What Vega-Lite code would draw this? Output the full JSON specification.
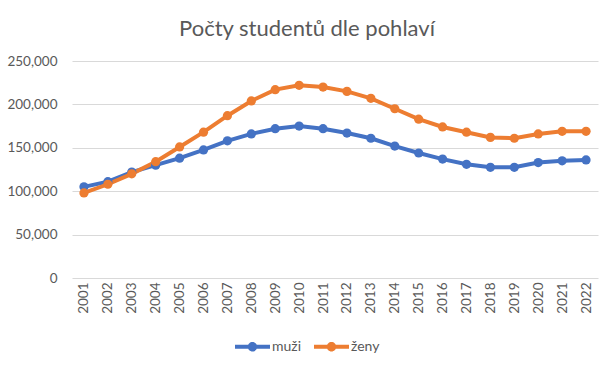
{
  "$schema": "https://vega.github.io/schema/vega-lite/v6.json",
  "width": 526,
  "height": 217,
  "autosize": {"type": "none"},
  "padding": {"left": 72, "top": 61, "right": 14, "bottom": 88},
  "background": "white",
  "title": {
    "text": "Počty studentů dle pohlaví",
    "font": "Lato",
    "fontSize": 22,
    "fontWeight": "normal",
    "color": "#595959",
    "anchor": "middle",
    "dx": -28,
    "offset": 13
  },
  "data": {
    "values": [
      {"rok": "2001", "pohlavi": "muži", "pocet": 105000},
      {"rok": "2002", "pohlavi": "muži", "pocet": 111000},
      {"rok": "2003", "pohlavi": "muži", "pocet": 122000},
      {"rok": "2004", "pohlavi": "muži", "pocet": 130000},
      {"rok": "2005", "pohlavi": "muži", "pocet": 138000},
      {"rok": "2006", "pohlavi": "muži", "pocet": 147500},
      {"rok": "2007", "pohlavi": "muži", "pocet": 158000},
      {"rok": "2008", "pohlavi": "muži", "pocet": 166000},
      {"rok": "2009", "pohlavi": "muži", "pocet": 172000},
      {"rok": "2010", "pohlavi": "muži", "pocet": 175000},
      {"rok": "2011", "pohlavi": "muži", "pocet": 172000},
      {"rok": "2012", "pohlavi": "muži", "pocet": 167000},
      {"rok": "2013", "pohlavi": "muži", "pocet": 161000},
      {"rok": "2014", "pohlavi": "muži", "pocet": 152000},
      {"rok": "2015", "pohlavi": "muži", "pocet": 144000},
      {"rok": "2016", "pohlavi": "muži", "pocet": 137000},
      {"rok": "2017", "pohlavi": "muži", "pocet": 131000},
      {"rok": "2018", "pohlavi": "muži", "pocet": 127500},
      {"rok": "2019", "pohlavi": "muži", "pocet": 127500},
      {"rok": "2020", "pohlavi": "muži", "pocet": 133000},
      {"rok": "2021", "pohlavi": "muži", "pocet": 135000},
      {"rok": "2022", "pohlavi": "muži", "pocet": 136000},
      {"rok": "2001", "pohlavi": "ženy", "pocet": 98000},
      {"rok": "2002", "pohlavi": "ženy", "pocet": 108000},
      {"rok": "2003", "pohlavi": "ženy", "pocet": 120000},
      {"rok": "2004", "pohlavi": "ženy", "pocet": 134000},
      {"rok": "2005", "pohlavi": "ženy", "pocet": 151000},
      {"rok": "2006", "pohlavi": "ženy", "pocet": 168000},
      {"rok": "2007", "pohlavi": "ženy", "pocet": 187000},
      {"rok": "2008", "pohlavi": "ženy", "pocet": 204000},
      {"rok": "2009", "pohlavi": "ženy", "pocet": 217000},
      {"rok": "2010", "pohlavi": "ženy", "pocet": 222000},
      {"rok": "2011", "pohlavi": "ženy", "pocet": 220000},
      {"rok": "2012", "pohlavi": "ženy", "pocet": 215000},
      {"rok": "2013", "pohlavi": "ženy", "pocet": 207000},
      {"rok": "2014", "pohlavi": "ženy", "pocet": 195000},
      {"rok": "2015", "pohlavi": "ženy", "pocet": 183000},
      {"rok": "2016", "pohlavi": "ženy", "pocet": 174000},
      {"rok": "2017", "pohlavi": "ženy", "pocet": 168000},
      {"rok": "2018", "pohlavi": "ženy", "pocet": 162000},
      {"rok": "2019", "pohlavi": "ženy", "pocet": 161000},
      {"rok": "2020", "pohlavi": "ženy", "pocet": 166000},
      {"rok": "2021", "pohlavi": "ženy", "pocet": 169000},
      {"rok": "2022", "pohlavi": "ženy", "pocet": 169000}
    ]
  },
  "mark": {
    "type": "line",
    "strokeWidth": 4,
    "point": {"filled": true, "size": 85}
  },
  "encoding": {
    "x": {
      "field": "rok",
      "type": "ordinal",
      "scale": {"type": "point", "padding": 0.5},
      "axis": {
        "title": null,
        "labelAngle": -90,
        "labelFont": "Lato",
        "labelFontSize": 13.5,
        "labelColor": "#595959",
        "labelPadding": 4,
        "ticks": false,
        "domain": false,
        "grid": false
      }
    },
    "y": {
      "field": "pocet",
      "type": "quantitative",
      "scale": {"domain": [0, 250000]},
      "axis": {
        "title": null,
        "values": [0, 50000, 100000, 150000, 200000, 250000],
        "format": ",d",
        "labelFont": "Lato",
        "labelFontSize": 13.5,
        "labelColor": "#595959",
        "labelPadding": 15,
        "ticks": false,
        "domain": false,
        "grid": true,
        "gridColor": "#d9d9d9",
        "gridWidth": 1
      }
    },
    "color": {
      "field": "pohlavi",
      "type": "nominal",
      "scale": {"domain": ["muži", "ženy"], "range": ["#4472C4", "#ED7D31"]},
      "legend": {
        "title": null,
        "orient": "none",
        "direction": "horizontal",
        "legendX": 163,
        "legendY": 268,
        "symbolType": "M-1,-0.12L1,-0.12L1,0.12L-1,0.12Z M0.27,0A0.27,0.27,0,1,1,-0.27,0A0.27,0.27,0,1,1,0.27,0Z",
        "symbolSize": 1225,
        "symbolStrokeWidth": 0,
        "labelFont": "Lato",
        "labelFontSize": 14,
        "labelColor": "#595959",
        "labelOffset": 2,
        "columnPadding": 12,
        "encode": {
          "symbols": {"update": {"fill": {"scale": "color", "field": "value"}, "strokeWidth": {"value": 0}, "opacity": {"value": 1}}}
        }
      }
    }
  },
  "config": {"view": {"stroke": null}}
}
